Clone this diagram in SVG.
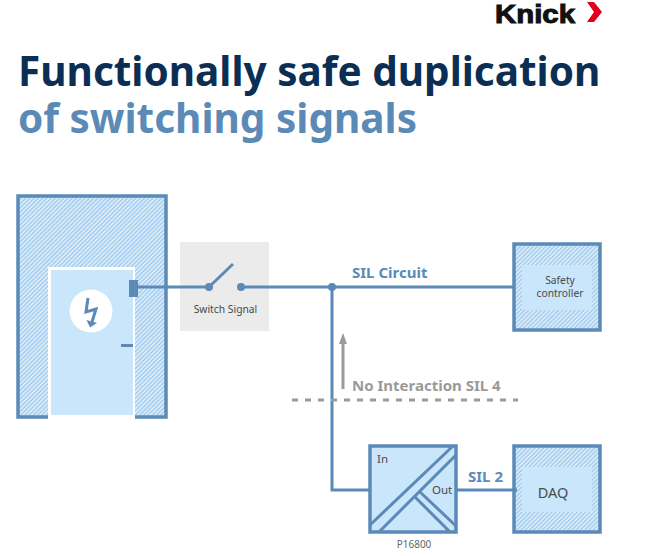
<svg xmlns="http://www.w3.org/2000/svg" width="664" height="556" viewBox="0 0 664 556">
<style>
text{font-family:"Noto Sans","Open Sans",sans-serif}
.t{font-size:40.500px;font-weight:700}
.b{font-size:15px;font-weight:700;fill:#5b8ab7}
.g{font-size:15px;font-weight:700;fill:#9a9a9a}
.s{fill:#4a4a4a}
.box{fill:url(#h);stroke:#5b8ab7;stroke-width:3.5}
.in{fill:#c9e6fa}
.w{fill:none;stroke:#5b8ab7;stroke-width:3}
.d{fill:#5b8ab7}
</style>
<defs>
<pattern id="h" width="3" height="3" patternUnits="userSpaceOnUse" patternTransform="rotate(45)">
<rect width="3" height="3" fill="#9cc8ec"/><rect width="1.500" height="3" fill="#e6f3fc"/>
</pattern>
</defs>
<rect width="664" height="556" fill="#fff"/>
<g id="logo">
<text x="495" y="23" font-size="25.500" textLength="80" lengthAdjust="spacingAndGlyphs" fill="#111" stroke="#111" stroke-width="1" style="font-family:'Liberation Sans',sans-serif;font-weight:700">Knick</text>
<path d="M587 2h7l8 10-8 10h-7l7-10z" fill="#e2001a"/>
</g>
<g id="title">
<text class="t" x="18" y="86" fill="#0b2e55">Functionally safe duplication</text>
<text class="t" x="18" y="133" fill="#5b8ab7">of switching signals</text>
</g>
<g id="cabinet">
<rect class="box" x="18" y="196" width="148" height="221"/>
<rect x="48" y="267" width="87" height="153" fill="#fff"/>
<rect class="in" x="51" y="270" width="82" height="145"/>
<rect class="d" x="129" y="280" width="9" height="17"/>
<rect class="d" x="121" y="344" width="12" height="3"/>
<circle cx="91" cy="311" r="21.500" fill="#fff"/>
<path d="M88 298l-2 14 10-3-4 13" fill="none" stroke="#5b8ab7" stroke-width="3"/>
<path d="M86.500 320l10.500 3-7 4.500z" class="d"/>
</g>
<g id="switch">
<rect x="180" y="242" width="89" height="89" fill="#ebebeb"/>
<text class="s" x="225.500" y="313" font-size="10.300" text-anchor="middle">Switch Signal</text>
<path d="M209 287l24-23" class="w"/>
<circle class="d" cx="209" cy="287" r="4"/>
<circle class="d" cx="241" cy="287" r="4"/>
</g>
<g id="safety">
<rect class="box" x="514" y="244" width="86" height="86"/>
<rect class="in" x="522" y="265" width="70" height="45"/>
<text class="s" x="560" y="284" font-size="10.300" text-anchor="middle">Safety</text>
<text class="s" x="560" y="297" font-size="10.300" text-anchor="middle">controller</text>
</g>
<g id="p16800">
<rect x="370" y="446" width="86" height="86" fill="#c9e6fa" stroke="#5b8ab7" stroke-width="3.500"/>
<path class="w" d="M370 525l83-79M379 532l77-77M420 492l36 34M415 497l35 35"/>
<text class="s" x="377" y="463" font-size="11.500">In</text>
<text class="s" x="432" y="494" font-size="11.500">Out</text>
<text x="414" y="548" font-size="10" text-anchor="middle" fill="#666">P16800</text>
</g>
<g id="daq">
<rect class="box" x="514" y="446" width="86" height="86"/>
<rect class="in" x="522" y="467" width="70" height="45"/>
<text class="s" x="553" y="498" font-size="14.500" text-anchor="middle">DAQ</text>
</g>
<g id="connectors">
<path class="w" d="M134 287H206M241 287H513M332 287V490H369M457 490H517"/>
<circle class="d" cx="332" cy="287" r="4"/>
<path d="M292 400H518" fill="none" stroke="#9a9a9a" stroke-width="3" stroke-dasharray="6 7"/>
<path d="M343 389V343" fill="none" stroke="#9a9a9a" stroke-width="3"/>
<path d="M339 344l4-11 4 11z" fill="#9a9a9a"/>
</g>
<g id="labels">
<text class="b" x="352" y="278">SIL Circuit</text>
<text class="g" x="352" y="391">No Interaction SIL 4</text>
<text class="b" x="468" y="482">SIL 2</text>
</g>
</svg>
